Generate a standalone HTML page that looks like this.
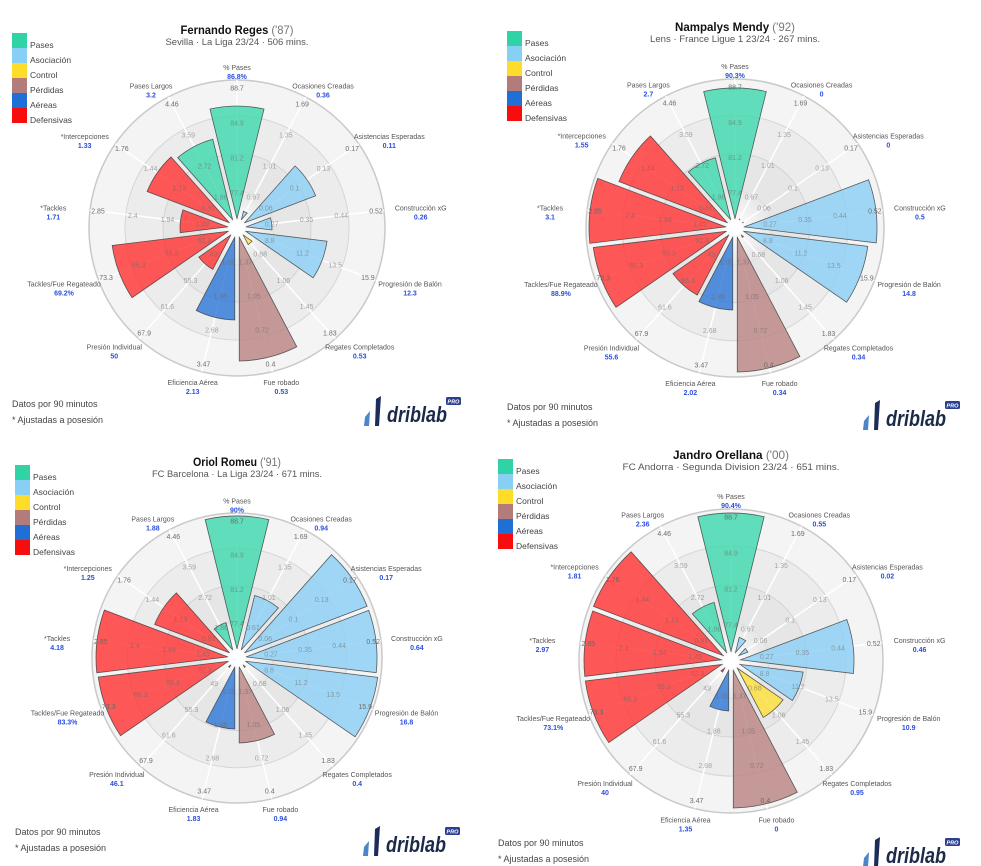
<!DOCTYPE html>
<html><head><meta charset="utf-8">
<style>html,body{margin:0;padding:0;background:#fff;}svg{display:block;}</style>
</head><body>
<svg id="s" width="981" height="866" xmlns="http://www.w3.org/2000/svg" font-family="Liberation Sans, sans-serif"></svg>
<script>
const NAMES=["% Pases","Ocasiones Creadas","Asistencias Esperadas","Construcción xG","Progresión de Balón","Regates Completados","Fue robado","Eficiencia Aérea","Presión Individual","Tackles/Fue Regateado","*Tackles","*Intercepciones","Pases Largos"];
const COLS=["#3fd8ae","#8ed0f5","#8ed0f5","#8ed0f5","#8ed0f5","#fde03a","#b98584","#2f79d8","#ff3434","#ff3434","#ff3434","#ff3434","#3fd8ae"];
const TICKS=[["88.7","84.9","81.2","77.4"],["1.69","1.35","1.01","0.67"],["0.17","0.13","0.1","0.06"],["0.52","0.44","0.35","0.27"],["15.9","13.5","11.2","8.8"],["1.83","1.45","1.06","0.68"],["0.4","0.72","1.05","1.37"],["3.47","2.68","1.88","1.09"],["67.9","61.6","55.3","49"],["73.3","66.3","59.3","52.3"],["2.85","2.4","1.94","1.49"],["1.76","1.44","1.13","0.81"],["4.46","3.59","2.72","1.86"]];
const LEG=[["Pases","#2fd3a5"],["Asociación","#87cff5"],["Control","#fedd2a"],["Pérdidas","#b37c7a"],["Aéreas","#1f6fd6"],["Defensivas","#f70d0d"]];
const P=[
{cx:237,cy:228,R:148,t:"Fernando Reges",yr:" ('87)",sub:"Sevilla · La Liga 23/24 · 506 mins.",ty:34,sy:45,tw:113,sw:143,leg:[12,33],foot:[12,407],logo:[363,395],
 vals:["86.8%","0.36","0.11","0.26","12.3","0.53","0.53","2.13","50","69.2%","1.71","1.33","3.2"],bars:[122,18,85,35,91,20,133,92,48,126,57,97,92]},
{cx:735,cy:228,R:149,t:"Nampalys Mendy",yr:" ('92)",sub:"Lens · France Ligue 1 23/24 · 267 mins.",ty:31,sy:42,tw:120,sw:170,leg:[507,31],foot:[507,410],logo:[862,399],
 vals:["90.3%","0","0","0.5","14.8","0.34","0.34","2.02","55.6","88.9%","3.1","1.55","2.7"],bars:[140,10,10,142,134,12,144,82,77,143,146,125,73]},
{cx:237,cy:658,R:145,t:"Oriol Romeu",yr:" ('91)",sub:"FC Barcelona · La Liga 23/24 · 671 mins.",ty:466,sy:477,tw:88,sw:170,leg:[15,465],foot:[15,835],logo:[362,825],
 vals:["90%","0.94","0.17","0.64","16.8","0.4","0.94","1.83","46.1","83.3%","4.18","1.25","1.88"],bars:[142,65,140,140,142,12,85,71,12,140,141,89,37]},
{cx:731,cy:661,R:152,t:"Jandro Orellana",yr:" ('00)",sub:"FC Andorra · Segunda Division 23/24 · 651 mins.",ty:459,sy:470,tw:116,sw:217,leg:[498,459],foot:[498,846],logo:[862,836],
 vals:["90.4%","0.55","0.02","0.46","10.9","0.95","0","1.35","40","73.1%","2.97","1.81","2.36"],bars:[148,25,19,123,73,65,147,50,14,147,147,148,61]}
];
let h="";
const st=2*Math.PI/13;
function wedge(cx,cy,a0,a1,r,g){
 const hh=g/2,r0=9,to=Math.sqrt(r*r-hh*hh);
 const u0=[Math.sin(a0),-Math.cos(a0)],n0=[Math.cos(a0),Math.sin(a0)];
 const u1=[Math.sin(a1),-Math.cos(a1)],n1=[-Math.cos(a1),-Math.sin(a1)];
 const p=(u,n,t)=>(cx+u[0]*t+n[0]*hh).toFixed(2)+","+(cy+u[1]*t+n[1]*hh).toFixed(2);
 return `M${p(u0,n0,r0)} L${p(u0,n0,to)} A${r} ${r} 0 0 1 ${p(u1,n1,to)} L${p(u1,n1,r0)} Z`;
}
P.forEach(q=>{
 const {cx,cy,R}=q,s=R/148;
 h+=`<defs><radialGradient id="g${cx}${cy}"><stop offset="0" stop-color="#fff"/><stop offset="1" stop-color="#e6e6e6"/></radialGradient></defs>`;
 h+=`<circle cx="${cx}" cy="${cy}" r="${R}" fill="#f4f4f4" stroke="#c9c9c9" stroke-width="1.5"/>`;
 h+=`<circle cx="${cx}" cy="${cy}" r="${0.757*R}" fill="#ececec" stroke="#d6d6d6" stroke-width="1"/>`;
 h+=`<circle cx="${cx}" cy="${cy}" r="${0.5*R}" fill="#e6e6e6" stroke="#d3d3d3" stroke-width="1"/>`;
 h+=`<circle cx="${cx}" cy="${cy}" r="${0.25*R}" fill="url(#g${cx}${cy})" stroke="#dcdcdc" stroke-width="0.8"/>`;
 for(let k=0;k<13;k++){const a=k*st;h+=`<line x1="${cx}" y1="${cy}" x2="${cx+R*Math.sin(a)}" y2="${cy-R*Math.cos(a)}" stroke="#fff" stroke-width="1.5"/>`;}
 for(let k=0;k<13;k++){
  const a=k*st;
  h+=`<path d="${wedge(cx,cy,a-st/2,a+st/2,q.bars[k]*1,4.5*s)}" fill="${COLS[k]}" fill-opacity="0.82" stroke="#3a3a3a" stroke-width="0.8" stroke-opacity="0.8"/>`;
 }
 h+=`<circle cx="${cx}" cy="${cy}" r="7" fill="#fff" opacity="0.9"/>`;
 for(let k=0;k<13;k++){
  const a=k*st,sn=Math.sin(a),cs=Math.cos(a);
  TICKS[k].forEach((t,i)=>{const r=(140-35*i)*s;
   h+=`<text x="${(cx+r*sn).toFixed(1)}" y="${(cy-r*cs+2.5).toFixed(1)}" font-size="7" fill="#666" fill-opacity="${i==0?0.95:0.55}" text-anchor="middle">${t}</text>`;});
  const lx=cx+1.25*R*sn,ly=cy-1.08*R*cs;
  h+=`<text x="${lx.toFixed(1)}" y="${(ly+2).toFixed(1)}" font-size="7" fill="#555" text-anchor="middle">${NAMES[k]}</text>`;
  h+=`<text x="${lx.toFixed(1)}" y="${(ly+11).toFixed(1)}" font-size="7" font-weight="bold" fill="#2b4fe0" text-anchor="middle">${q.vals[k]}</text>`;
 }
 h+=`<text x="${cx}" y="${q.ty}" font-size="12" font-weight="bold" fill="#111" text-anchor="middle" textLength="${q.tw}" lengthAdjust="spacingAndGlyphs">${q.t}<tspan font-weight="normal" fill="#777">${q.yr}</tspan></text>`;
 h+=`<text x="${cx}" y="${q.sy}" font-size="9.5" fill="#555" text-anchor="middle" textLength="${q.sw}" lengthAdjust="spacingAndGlyphs">${q.sub}</text>`;
 const [lx,ly]=q.leg;
 LEG.forEach((l,i)=>{h+=`<rect x="${lx}" y="${ly+i*15}" width="15" height="15" fill="${l[1]}"/><text x="${lx+18}" y="${ly+i*15+15}" font-size="8.5" fill="#444">${l[0]}</text>`;});
 const [fx,fy]=q.foot;
 h+=`<text x="${fx}" y="${fy}" font-size="9" fill="#444">Datos por 90 minutos</text><text x="${fx}" y="${fy+16}" font-size="9" fill="#444">* Ajustadas a posesión</text>`;
 const [ox,oy]=q.logo;
 h+=`<polygon points="${ox+13},${oy+4} ${ox+18},${oy+1} ${ox+16},${oy+31} ${ox+12},${oy+31}" fill="#1d2d5a"/>`;
 h+=`<polygon points="${ox+2},${oy+22} ${ox+7},${oy+16} ${ox+6},${oy+31} ${ox+1},${oy+31}" fill="#4a86c8"/>`;
 h+=`<text x="${ox+24}" y="${oy+27}" font-size="22" font-weight="bold" font-style="italic" fill="#1c2a4a" textLength="60" lengthAdjust="spacingAndGlyphs">driblab</text>`;
 h+=`<rect x="${ox+83}" y="${oy+2}" width="15" height="8" rx="1.5" fill="#2a3f8f"/><text x="${ox+90.5}" y="${oy+8.3}" font-size="5.5" font-weight="bold" font-style="italic" fill="#fff" text-anchor="middle">PRO</text>`;
});
document.getElementById("s").innerHTML=h;
</script>
</body></html>
